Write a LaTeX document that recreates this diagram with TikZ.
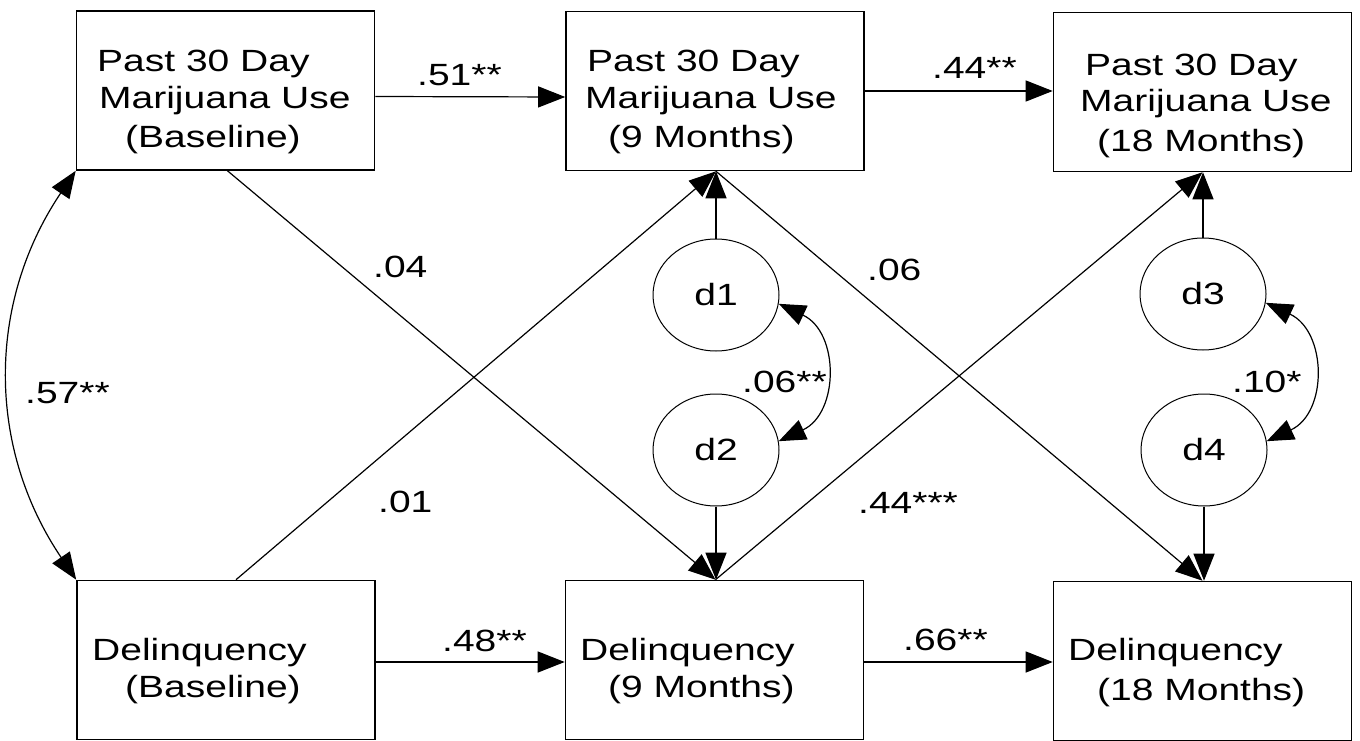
\documentclass[tikz,border=0pt]{standalone}
\usepackage{fontspec}
\setmainfont{Liberation Sans}[FakeStretch=1.27]
\usetikzlibrary{arrows.meta,shapes.geometric}
\begin{document}
\begin{tikzpicture}[x=1pt,y=1pt,
  box/.style={draw, line width=1.6pt, minimum width=298pt, minimum height=159pt, inner sep=0pt},
  err/.style={draw, ellipse, line width=1pt, minimum width=126pt, minimum height=112pt, inner sep=0pt,
              font=\fontsize{30.7}{37}\selectfont},
  arr/.style={line width=1.2pt, -{Triangle[length=27pt,width=21pt]}},
  cov/.style={line width=1.2pt, {Triangle[length=27pt,width=21pt]}-{Triangle[length=27pt,width=21pt]}},
  txt/.style={anchor=base west, inner sep=0pt, font=\fontsize{30.7}{37}\selectfont},
  lbl/.style={anchor=base west, inner sep=0pt, font=\fontsize{30.7}{37}\selectfont}]
\useasboundingbox (0,0) rectangle (1360,-741);
\fill[white] (0,0) rectangle (1360,-741);

% boxes
\node[box] (A) at (225.5,-90.5) {};
\node[box] (B) at (715,-91) {};
\node[box] (C) at (1202.5,-92) {};
\node[box] (D) at (226,-660) {};
\node[box] (E) at (714.5,-660) {};
\node[box] (F) at (1202.5,-661) {};

% box texts
\node[txt] (a1) at (97,-72) {Past 30 Day};
\node[txt] (a2) at (99,-109) {Marijuana Use};
\node[txt] (a3) at (125,-148) {(Baseline)};
\node[txt] (b1) at (587,-72) {Past 30 Day};
\node[txt] (b2) at (585,-109) {Marijuana Use};
\node[txt] (b3) at (608,-148) {(9 Months)};
\node[txt] (c1) at (1085,-76) {Past 30 Day};
\node[txt] (c2) at (1080,-112) {Marijuana Use};
\node[txt] (c3) at (1097,-152) {(18 Months)};
\node[txt] (dd1) at (92,-660) {Delinquency};
\node[txt] (dd2) at (125,-697) {(Baseline)};
\node[txt] (e1) at (580,-660) {Delinquency};
\node[txt] (e2) at (608,-697) {(9 Months)};
\node[txt] (f1) at (1068,-660) {Delinquency};
\node[txt] (f2) at (1097,-700) {(18 Months)};

% disturbances
\node[err] (d1) at (716,-295) {d1};
\node[err] (d2) at (716,-450) {d2};
\node[err] (d3) at (1203,-294) {d3};
\node[err] (d4) at (1204,-450) {d4};

% horizontal paths
\draw[arr] ([yshift=-6]A.east) -- ([yshift=-6]B.west);
\draw[arr] (B.east) -- ([yshift=1]C.west);
\draw[arr] ([yshift=-2]D.east) -- ([yshift=-2]E.west);
\draw[arr] ([yshift=-2]E.east) -- ([yshift=-1]F.west);

% cross-lagged paths
\draw[arr] ([xshift=2]A.south) -- ([xshift=1]E.north);
\draw[arr] ([xshift=10]D.north) -- ([xshift=1]B.south);
\draw[arr] ([xshift=1]B.south) -- (F.north);
\draw[arr] ([xshift=1]E.north) -- (C.south);

% disturbance paths
\draw[arr] (d1.north) -- (d1.north |- B.south);
\draw[arr] (d2.south) -- (d2.south |- E.north);
\draw[arr] (d3.north) -- (d3.north |- C.south);
\draw[arr] (d4.south) -- (d4.south |- F.north);

% covariances
\draw[cov] (A.south west) to[bend right=34] (D.north west);
\draw[cov] (d1.-8) to[out=-25,in=25,looseness=1.25] (d2.8);
\draw[cov] (d3.-8) to[out=-25,in=25,looseness=1.25] (d4.8);

% labels
\node[lbl] (l51) at (417,-86) {.51**};
\node[lbl] (l44a) at (932,-79) {.44**};
\node[lbl] (l48) at (442,-651) {.48**};
\node[lbl] (l66) at (903,-650) {.66**};
\node[lbl] (l04) at (373,-277) {.04};
\node[lbl] (l06a) at (867,-280) {.06};
\node[lbl] (l57) at (25,-403) {.57**};
\node[lbl] (l01) at (378,-512) {.01};
\node[lbl] (l44b) at (858,-513) {.44***};
\node[lbl] (l06b) at (742,-392) {.06**};
\node[lbl] (l10) at (1232,-392) {.10*};
\end{tikzpicture}
\end{document}
